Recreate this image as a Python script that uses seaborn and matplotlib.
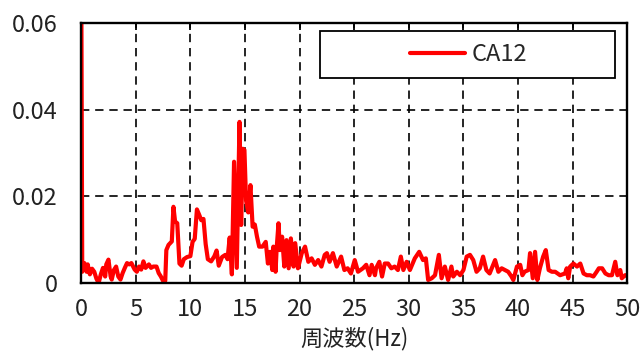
import matplotlib
matplotlib.use("Agg")
import matplotlib.pyplot as plt
import seaborn as sns
import pandas as pd
from matplotlib.patches import Rectangle

# spectrum (Hz, amplitude)
freq = [0.0, 0.1, 0.3, 0.5, 0.6, 0.8, 1.0, 1.2, 1.4, 1.6, 1.8, 2.0, 2.2, 2.3, 2.5,
        2.7, 2.8, 3.0, 3.2, 3.4, 3.6, 3.8, 4.0, 4.2, 4.4, 4.6, 4.9, 5.1, 5.3, 5.5,
        5.7, 5.9, 6.2, 6.4, 6.6, 6.9, 7.1, 7.3, 7.5, 7.7, 7.8, 8.0, 8.3, 8.45, 8.6,
        8.8, 9.0, 9.2, 9.4, 9.7, 10.0, 10.2, 10.4, 10.6, 10.8, 11.0, 11.2, 11.4, 11.6,
        11.9, 12.2, 12.4, 12.6, 12.9, 13.2, 13.4, 13.6, 13.8, 14.0, 14.25, 14.5, 14.65,
        14.8, 14.95, 15.1, 15.3, 15.5, 15.7, 15.9, 16.1, 16.3, 16.6, 16.9, 17.1, 17.3,
        17.5, 17.6, 17.8, 17.9, 18.07, 18.2, 18.4, 18.6, 18.8, 19.0, 19.2, 19.45, 19.6,
        19.85, 20.2, 20.5, 20.8, 21.1, 21.4, 21.7, 22.0, 22.3, 22.5, 22.75, 23.05, 23.4,
        23.8, 24.1, 24.4, 24.7, 25.05, 25.35, 25.8, 26.1, 26.4, 26.6, 26.9, 27.0, 27.3,
        27.55, 27.8, 28.1, 28.4, 28.7, 29.0, 29.27, 29.5, 29.8, 30.1, 30.55, 30.95, 31.3,
        31.56, 31.77, 32.1, 32.4, 32.75, 33.0, 33.3, 33.6, 33.9, 34.07, 34.4, 34.7, 35.0,
        35.3, 35.6, 35.9, 36.2, 36.5, 36.8, 37.1, 37.4, 37.9, 38.2, 38.5, 38.8, 39.1,
        39.4, 39.57, 39.9, 40.2, 40.4, 40.6, 40.95, 41.1, 41.35, 41.56, 41.77, 42.0,
        42.3, 42.54, 42.8, 43.1, 43.4, 43.85, 44.3, 44.46, 44.6, 44.77, 45.07, 45.4,
        45.7, 46.0, 46.3, 46.6, 46.9, 47.2, 47.4, 47.7, 48.0, 48.3, 48.6, 48.9, 49.1,
        49.36, 49.5, 49.8, 50.0]
amp = [0.080, 0.0026, 0.0046, 0.0026, 0.0043, 0.0020, 0.0033, 0.0026, 0.0010, 0.0000,
       0.0020, 0.0035, 0.0015, 0.0043, 0.0054, 0.0015, 0.0008, 0.0030, 0.0038, 0.0015,
       0.0008, 0.0023, 0.0035, 0.0046, 0.0043, 0.0046, 0.0031, 0.0026, 0.0038, 0.0031,
       0.0050, 0.0035, 0.0043, 0.0035, 0.0038, 0.0038, 0.0023, 0.0015, 0.0005, 0.0005,
       0.0076, 0.0088, 0.0096, 0.0176, 0.0142, 0.0138, 0.0045, 0.0040, 0.0055, 0.0060,
       0.0062, 0.0095, 0.0102, 0.0170, 0.0158, 0.0145, 0.0148, 0.0090, 0.0055, 0.0050,
       0.0062, 0.0075, 0.0040, 0.0060, 0.0065, 0.0055, 0.0105, 0.0020, 0.0280, 0.0035,
       0.0372, 0.0134, 0.0310, 0.0307, 0.0190, 0.0163, 0.0226, 0.0130, 0.0135, 0.0107,
       0.0084, 0.0084, 0.0095, 0.0045, 0.0072, 0.0030, 0.0084, 0.0026, 0.0080, 0.0138,
       0.0076, 0.0107, 0.0038, 0.0099, 0.0034, 0.0103, 0.0038, 0.0092, 0.0034, 0.0069,
       0.0084, 0.0049, 0.0057, 0.0042, 0.0053, 0.0038, 0.0065, 0.0069, 0.0049, 0.0069,
       0.0038, 0.0061, 0.0030, 0.0034, 0.0022, 0.0053, 0.0026, 0.0034, 0.0042, 0.0018,
       0.0042, 0.0018, 0.0034, 0.0049, 0.0015, 0.0045, 0.0045, 0.0034, 0.0038, 0.0030,
       0.0061, 0.0030, 0.0049, 0.0030, 0.0057, 0.0072, 0.0053, 0.0057, 0.0007, 0.0011,
       0.0018, 0.0065, 0.0011, 0.0038, 0.0007, 0.0038, 0.0015, 0.0026, 0.0018, 0.0030,
       0.0061, 0.0065, 0.0053, 0.0026, 0.0034, 0.0061, 0.0030, 0.0022, 0.0053, 0.0026,
       0.0034, 0.0030, 0.0026, 0.0015, 0.0007, 0.0038, 0.0042, 0.0018, 0.0026, 0.0030,
       0.0069, 0.0011, 0.0072, 0.0007, 0.0034, 0.0061, 0.0076, 0.0030, 0.0026, 0.0026,
       0.0018, 0.0022, 0.0034, 0.0011, 0.0038, 0.0045, 0.0038, 0.0045, 0.0022, 0.0018,
       0.0018, 0.0015, 0.0026, 0.0034, 0.0034, 0.0022, 0.0018, 0.0018, 0.0049, 0.0018,
       0.0030, 0.0011, 0.0018, 0.0018]
series_name = "CA12"
xticks = [0, 5, 10, 15, 20, 25, 30, 35, 40, 45, 50]
yticks = [0, 0.02, 0.04, 0.06]
ytick_labels = ["0", "0.02", "0.04", "0.06"]

sns.set_style("white")
plt.rcParams['font.family'] = ['Noto Sans CJK JP', 'DejaVu Sans']

df = pd.DataFrame({"freq": freq, "amp": amp})

fig = plt.figure(figsize=(6.44, 3.56), dpi=100)
ax = fig.add_axes([0.126, 0.205, 0.848, 0.730])

sns.lineplot(data=df, x="freq", y="amp", color="#ff0000", linewidth=3.0,
             estimator=None, sort=False, ax=ax, label=series_name, legend=False)

ax.set_xlim(0, 50)
ax.set_ylim(0, 0.06)
ax.set_xticks(xticks)
ax.set_yticks(yticks)
ax.set_yticklabels(ytick_labels)
ax.grid(True, color="black", linestyle=(0, (5, 3.5)), linewidth=1.2)
ax.set_axisbelow(True)
for s in ax.spines.values():
    s.set_color("black")
    s.set_linewidth(1.7)
    s.set_zorder(5)

ax.tick_params(axis="x", direction="in", length=5, width=1.3, top=True,
               labelsize=17, pad=11, colors="black")
ax.tick_params(axis="y", direction="in", length=0, labelsize=17, pad=17,
               colors="black")
for lbl in ax.get_xticklabels() + ax.get_yticklabels():
    lbl.set_color("#222222")
ax.set_xlabel("周波数(Hz)", fontsize=16, labelpad=4, color="#222222")
ax.set_ylabel("")

# legend box
ax.add_patch(Rectangle((0.438, 0.788), 0.540, 0.181, transform=ax.transAxes,
                       facecolor="white", edgecolor="black", linewidth=1.3, zorder=6))
leg = ax.legend(loc="center", bbox_to_anchor=(0.71, 0.878), frameon=False,
                fontsize=17, handlelength=2.3, handletextpad=0.3)
leg.set_zorder(7)

fig.savefig("out.png", dpi=100)
